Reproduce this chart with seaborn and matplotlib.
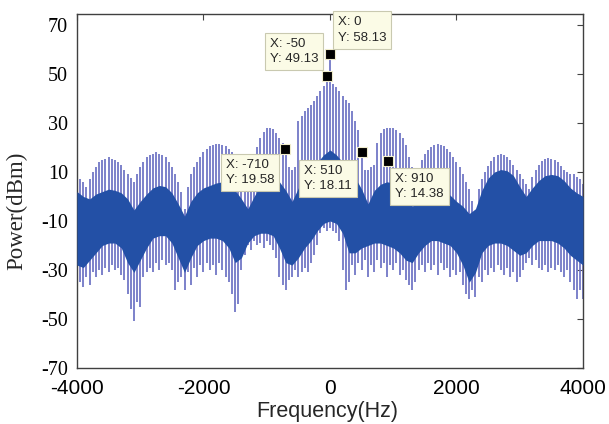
import matplotlib
matplotlib.use("Agg")
import matplotlib.pyplot as plt
import seaborn as sns

# comb lines every 50 Hz
spike_hz = list(range(-4000, 4001, 50))
spike_top = [
    8, 7, 6, 4, 7, 10, 12, 14, 15, 15.5,
    16, 15.5, 15, 14, 13, 11, 9, 7.5, 6, 9,
    12, 14, 16, 17, 17.5, 18, 17.5, 17, 16, 14,
    12, 9, 6, 2, -5, 4, 9, 12, 14, 16,
    18, 19.5, 20.5, 21, 21.5, 21.5, 21, 20.5, 19.5, 18,
    16, 14, 11, 8, 5, 3, 14, 20, 24, 26.5,
    28, 28, 27.5, 26, 24, 22, 19.6, 12, 11, 12,
    31, 33, 35, 36, 37.5, 39, 41, 43, 45, 49.13,
    58.13, 46, 44.5, 43, 41, 39.5, 38, 35, 31, 27,
    18.11, 11, 11, 12, 13, 22, 26, 27.5, 28, 28,
    28, 27, 26, 24, 21, 16, 12, 10, 11, 15,
    17.5, 19, 20, 21, 21.5, 21, 20.5, 19.5, 18, 16,
    14, 12, 9, 6, 3, -2, -6, 3, 7, 10,
    12.5, 14.5, 16, 17, 17.3, 17, 16, 15, 13, 11,
    9, 7, 5, 3, 8, 11, 13, 14.5, 15.5, 15.7,
    15.5, 15, 14, 12.5, 11, 10, 9, 9, 8, 7,
    5,
]
spike_low = [
    -37, -35, -37, -33, -36, -31, -33, -30, -32, -29,
    -31, -28, -30, -29, -32, -34, -40, -46, -51, -43,
    -45, -33, -31, -29, -31, -27, -30, -26, -28, -27,
    -30, -38, -35, -33, -38, -31, -36, -29, -33, -28,
    -31, -27, -30, -28, -32, -27, -30, -33, -35, -40,
    -47, -44, -30, -24, -20, -22, -18, -20, -19, -21,
    -18, -20, -22, -25, -33, -36, -38, -34, -33, -30,
    -33, -31, -29, -31, -27, -24, -20, -15, -13, -14,
    -13, -14, -15, -18, -30, -38, -35, -28, -32, -27,
    -30, -26, -33, -28, -31, -26, -29, -27, -33, -28,
    -30, -27, -32, -30, -34, -36, -38, -35, -30, -28,
    -31, -27, -30, -28, -32, -27, -30, -29, -33, -30,
    -32, -31, -36, -40, -42, -38, -41, -33, -35, -30,
    -32, -29, -31, -28, -30, -32, -29, -33, -31, -35,
    -33, -30, -27, -25, -28, -26, -29, -30, -28, -31,
    -29, -30, -28, -31, -33, -30, -35, -38, -42, -38,
    -42,
]

# dense noise band, every 100 Hz
band_hz = list(range(-4000, 4001, 100))
band_top = [
    2, 0, -1, 1, 2, 3, 2.5, 1.5, -1, -5.5,
    -2, 1, 3.5, 4.5, 4, 1.5, -3, -8, -2, 1.5,
    3.5, 4.5, 5.5, 6, 5, 2.5, -1, -5, 0, 4.5,
    7, 7.5, 6, 2.5, -2, 3.5, 8, 11, 14, 17,
    19, 17, 14, 11, 7.5, 3, -3, 2.5, 5, 6,
    5.5, 3.5, -1, -4, -1.5, 1, 2, 2.5, 2, 0.5,
    -2, -4, -7, -5, 2.5, 7.5, 10, 11, 10.5, 8.5,
    4, 0, 3.5, 6.5, 8.5, 9, 8.5, 6.5, 3.5, 1.5,
    0,
]
band_low = [
    -28, -29, -26, -23, -20, -19, -19, -21, -27, -31,
    -26, -21, -17, -16, -16, -19, -25, -31, -25, -20,
    -18, -17, -17, -18, -21, -27, -25, -19, -16, -15,
    -15, -16, -21, -27, -28, -25, -21, -18, -14, -11,
    -10, -11, -15, -23, -23, -21, -20, -19, -19, -20,
    -21, -23, -26, -27, -23, -20, -18, -18, -19, -20,
    -23, -28, -35, -31, -23, -20, -19, -19, -20, -22,
    -24, -23, -20, -18, -18, -18, -19, -21, -24, -26,
    -28,
]

# data tips
tip_x = [0, -50, -710, 510, 910]
tip_y = [58.13, 49.13, 19.58, 18.11, 14.38]
tip_offset = [(32, 24), (-33, 25), (-35, -24), (-34, -26), (32, -25)]

x_ticks = [-4000, -2000, 0, 2000, 4000]
y_ticks = [-70, -50, -30, -10, 10, 30, 50, 70]

assert len(spike_top) == len(spike_hz) == len(spike_low)
assert len(band_top) == len(band_hz) == len(band_low)

sns.set_style("white")
plt.rcParams["axes.unicode_minus"] = False

fig = plt.figure(figsize=(6.09, 4.24), dpi=100)
ax = fig.add_axes([0.1264, 0.1321, 0.8309, 0.835])

ax.vlines(spike_hz, spike_low, spike_top, color="#6c72c4", linewidth=1.25, zorder=2)
ax.fill_between(band_hz, band_low, band_top, color="#2350a6", linewidth=0, zorder=3)

sns.scatterplot(x=tip_x, y=tip_y, marker="s", s=60, color="black",
                edgecolor="#efeccc", linewidth=0.8, zorder=5, ax=ax)

for x, y, (dx, dy) in zip(tip_x, tip_y, tip_offset):
    ax.annotate("X: " + str(x) + "\nY: " + format(y, ".2f"), xy=(x, y),
                xytext=(dx, dy), textcoords="offset pixels",
                ha="center", va="center", multialignment="left",
                fontsize=9.5, family="Liberation Sans", color="#262626",
                linespacing=1.35, annotation_clip=False, zorder=6,
                bbox=dict(boxstyle="square,pad=0.38", fc="#fbfbe6", ec="#c9c9b0", lw=0.8))

ax.set_xlim(-4000, 4000)
ax.set_ylim(-70, 74.5)
ax.set_xticks(x_ticks)
ax.set_yticks(y_ticks)
ax.tick_params(direction="in", length=4, width=0.8, color="#444444",
               top=True, right=True, labelcolor="black")
ax.tick_params(axis="x", pad=8, labelsize=15)
ax.tick_params(axis="y", pad=6.5, labelsize=14.5)
for lab in ax.get_xticklabels():
    lab.set_family("Liberation Sans")
for lab in ax.get_yticklabels():
    lab.set_family("Liberation Serif")

for sp in ax.spines.values():
    sp.set_color("#404040")
    sp.set_linewidth(1.0)

ax.set_xlabel("Frequency(Hz)", family="Liberation Sans", fontsize=15.5)
ax.set_ylabel("Power(dBm)", family="Liberation Serif", fontsize=16.5)
ax.xaxis.set_label_coords(0.495, -0.093)
ax.yaxis.set_label_coords(-0.099, 0.443)

fig.savefig("out.png", dpi=100)
